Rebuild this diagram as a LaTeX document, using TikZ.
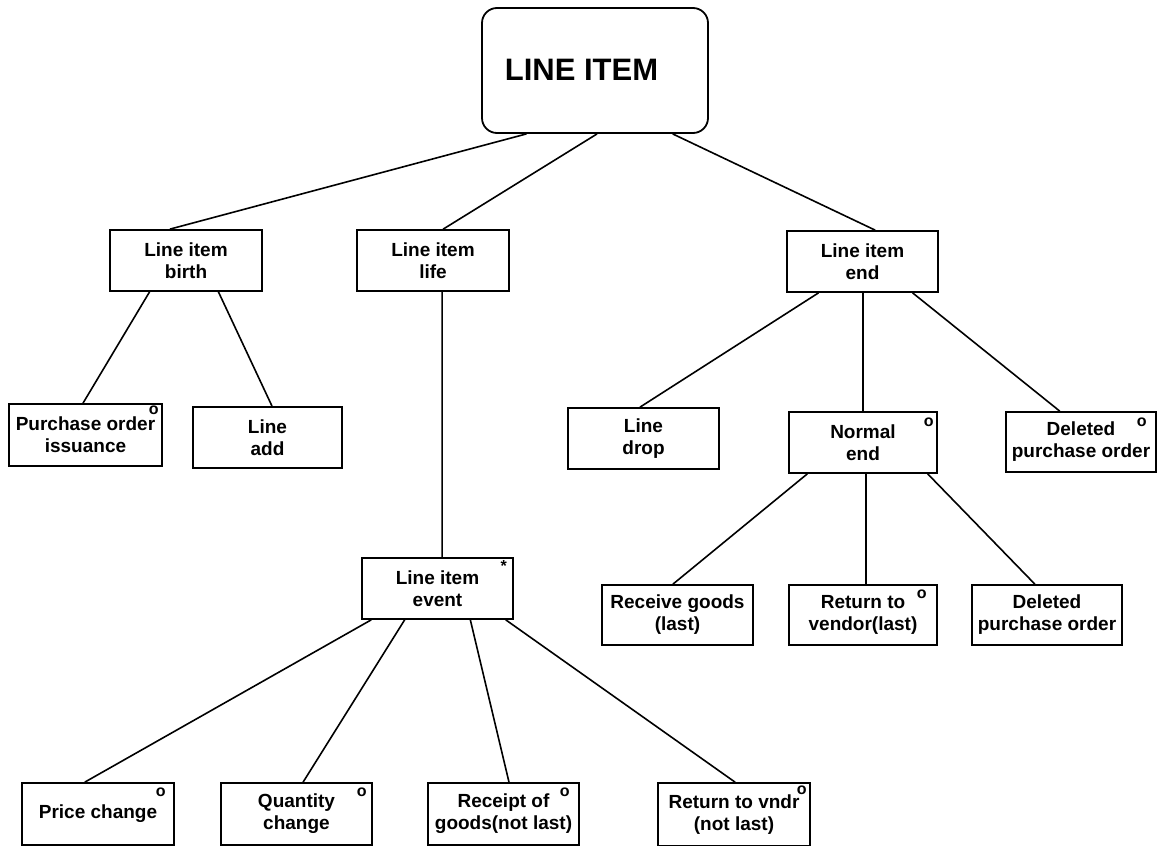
\documentclass[tikz,border=0pt]{standalone}
\usepackage{fontspec}
\setmainfont{Liberation Sans}
\usetikzlibrary{calc}
\begin{document}
\begin{tikzpicture}[x=1pt,y=-1pt,
  box/.style={draw, line width=1.7pt, fill=white, inner sep=0pt, align=center,
    font=\bfseries\fontsize{19}{22}\selectfont},
  rootbox/.style={box, rounded corners=15pt, line width=1.8pt},
  link/.style={line width=1.6pt},
  tick/.style={inner sep=0pt, font=\bfseries\fontsize{16}{16}\selectfont}]
\useasboundingbox (0,0) rectangle (1162,846);

% root and first level
\node[rootbox, minimum width=226pt, minimum height=125pt] (root) at (595,70.5) {};
\node[inner sep=0pt, font=\bfseries\fontsize{31}{31}\selectfont] (roottext) at (581.5,70) {LINE ITEM};
\node[box, minimum width=152pt, minimum height=61pt] (birth) at (186,260.5) {Line item\\birth};
\node[box, minimum width=152pt, minimum height=61pt] (life) at (433,260.5) {Line item\\life};
\node[box, minimum width=151pt, minimum height=61pt] (endb) at (862.5,261.5) {Line item\\end};

% birth children
\node[box, minimum width=153pt, minimum height=62pt] (po) at (85.5,435) {Purchase order\\issuance};
\node[box, minimum width=149pt, minimum height=61pt] (add) at (267.5,437.5) {Line\\add};

% end children
\node[box, minimum width=151pt, minimum height=61pt] (drop) at (643.5,438.5) {Line\\drop};
\node[box, minimum width=148pt, minimum height=61pt] (normal) at (863,442.5) {Normal\\end};
\node[box, minimum width=150pt, minimum height=60pt] (deltop) at (1081,442) {Deleted\\purchase order};

% normal end children
\node[box, minimum width=151pt, minimum height=60pt] (receive) at (677.5,615) {Receive goods\\(last)};
\node[box, minimum width=148pt, minimum height=60pt] (retv) at (863,615) {Return to\\vendor(last)};
\node[box, minimum width=150pt, minimum height=60pt] (delbot) at (1047,615) {Deleted\\purchase order};

% life subtree
\node[box, minimum width=151pt, minimum height=61pt] (event) at (437.5,588.5) {Line item\\event};
\node[box, minimum width=152pt, minimum height=62pt] (price) at (98,814) {Price change};
\node[box, minimum width=151pt, minimum height=62pt] (qty) at (296.5,814) {Quantity\\change};
\node[box, minimum width=151pt, minimum height=62pt] (receipt) at (503.5,814) {Receipt of\\goods(not last)};
\node[box, minimum width=152pt, minimum height=63pt] (retvndr) at (734,814.5) {Return to vndr\\(not last)};

% optional / iteration marks
\node[tick] (po-o) at ([shift={(-9,7)}]po.north east) {o};
\node[tick] (normal-o) at ([shift={(-9,11)}]normal.north east) {o};
\node[tick] (deltop-o) at ([shift={(-15,11)}]deltop.north east) {o};
\node[tick] (retv-o) at ([shift={(-16,10)}]retv.north east) {o};
\node[tick] (price-o) at ([shift={(-14,10)}]price.north east) {o};
\node[tick] (qty-o) at ([shift={(-11,10)}]qty.north east) {o};
\node[tick] (receipt-o) at ([shift={(-15,10)}]receipt.north east) {o};
\node[tick] (retvndr-o) at ([shift={(-9,8)}]retvndr.north east) {o};
\node[tick] (event-star) at ([shift={(-10,9)}]event.north east) {*};

% connectors
\draw[link] ($(root.south west)!0.199!(root.south east)$) -- ($(birth.north west)!0.395!(birth.north east)$);
\draw[link] ($(root.south west)!0.509!(root.south east)$) -- ($(life.north west)!0.566!(life.north east)$);
\draw[link] ($(root.south west)!0.841!(root.south east)$) -- ($(endb.north west)!0.583!(endb.north east)$);

\draw[link] ($(birth.south west)!0.263!(birth.south east)$) -- ($(po.north west)!0.484!(po.north east)$);
\draw[link] ($(birth.south west)!0.711!(birth.south east)$) -- ($(add.north west)!0.530!(add.north east)$);

\draw[link] ($(life.south west)!0.559!(life.south east)$) -- ($(event.north west)!0.530!(event.north east)$);

\draw[link] ($(endb.south west)!0.212!(endb.south east)$) -- ($(drop.north west)!0.477!(drop.north east)$);
\draw[link] ($(endb.south west)!0.503!(endb.south east)$) -- ($(normal.north west)!0.5!(normal.north east)$);
\draw[link] ($(endb.south west)!0.828!(endb.south east)$) -- ($(deltop.north west)!0.36!(deltop.north east)$);

\draw[link] ($(normal.south west)!0.128!(normal.south east)$) -- ($(receive.north west)!0.47!(receive.north east)$);
\draw[link] ($(normal.south west)!0.52!(normal.south east)$) -- ($(retv.north west)!0.52!(retv.north east)$);
\draw[link] ($(normal.south west)!0.932!(normal.south east)$) -- ($(delbot.north west)!0.42!(delbot.north east)$);

\draw[link] ($(event.south west)!0.066!(event.south east)$) -- ($(price.north west)!0.414!(price.north east)$);
\draw[link] ($(event.south west)!0.285!(event.south east)$) -- ($(qty.north west)!0.543!(qty.north east)$);
\draw[link] ($(event.south west)!0.715!(event.south east)$) -- ($(receipt.north west)!0.536!(receipt.north east)$);
\draw[link] ($(event.south west)!0.947!(event.south east)$) -- ($(retvndr.north west)!0.507!(retvndr.north east)$);
\end{tikzpicture}
\end{document}
